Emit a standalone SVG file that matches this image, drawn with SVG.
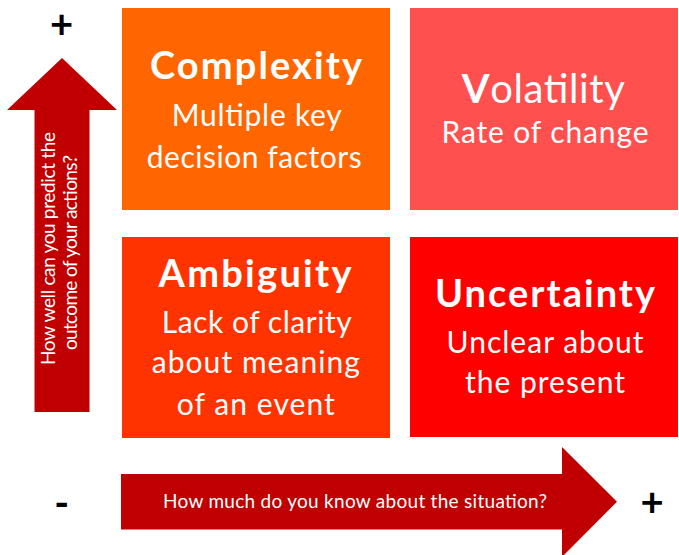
<svg xmlns="http://www.w3.org/2000/svg" width="679" height="555" viewBox="0 0 679 555">
<style>
  .t { font-family: Lato, "Liberation Sans", sans-serif; fill: #FFFFFF; text-anchor: middle; }
  .title { font-weight: bold; font-size: 38px; }
  .sub { font-size: 30px; }
  .axis { font-size: 19px; }
  .sign { font-family: Lato, "Liberation Sans", sans-serif; font-weight: bold; font-size: 40px; fill: #000000; text-anchor: middle; }
  .arrow { fill: #C00000; }
</style>
<rect width="679" height="555" fill="#FFFFFF"/>
<g id="axes">
  <polygon class="arrow" points="62,58 117,110 89.5,110 89.5,412 34.5,412 34.5,110 7,110"/>
  <polygon class="arrow" points="121,474 562,474 562,447 617,501.7 562,557 562,529.5 121,529.5"/>
  <g transform="translate(55,248.5) rotate(-90)">
    <text class="t axis" x="0" y="0" textLength="233">How well can you predict the</text>
  </g>
  <g transform="translate(76.5,252.5) rotate(-90)">
    <text class="t axis" x="0" y="0" textLength="195">outcome of your actions?</text>
  </g>
  <text class="t axis" x="355" y="507.7" textLength="384">How much do you know about the situation?</text>
  <text class="sign" x="61.5" y="38">+</text>
  <text class="sign" x="652" y="516">+</text>
  <text class="sign" x="61.7" y="517">-</text>
</g>
<g id="complexity">
  <rect x="122" y="8" width="268" height="202" fill="#FF6600"/>
  <text class="t title" x="256" y="79.3" textLength="212">Complexity</text>
  <text class="t sub" x="256.7" y="126" textLength="170">Multiple key</text>
  <text class="t sub" x="254.2" y="168.3" textLength="215">decision factors</text>
</g>
<g id="volatility">
  <rect x="410" y="8" width="268" height="202" fill="#FF5050"/>
  <text class="t" x="543.3" y="103.3" font-size="40" textLength="163"><tspan font-weight="bold">V</tspan>olatility</text>
  <text class="t sub" x="545" y="143.3" textLength="207">Rate of change</text>
</g>
<g id="ambiguity">
  <rect x="122" y="237" width="268" height="201" fill="#FF3300"/>
  <text class="t title" x="255" y="286.7" textLength="193">Ambiguity</text>
  <text class="t sub" x="256.7" y="333.3" textLength="190">Lack of clarity</text>
  <text class="t sub" x="255.8" y="373.3" textLength="208">about meaning</text>
  <text class="t sub" x="255.8" y="415" textLength="158">of an event</text>
</g>
<g id="uncertainty">
  <rect x="410" y="237" width="268" height="200" fill="#FF0000"/>
  <text class="t title" x="545" y="306.7" textLength="220">Uncertainty</text>
  <text class="t sub" x="545" y="353.3" textLength="197">Unclear about</text>
  <text class="t sub" x="545" y="393.3" textLength="160">the present</text>
</g>
</svg>
